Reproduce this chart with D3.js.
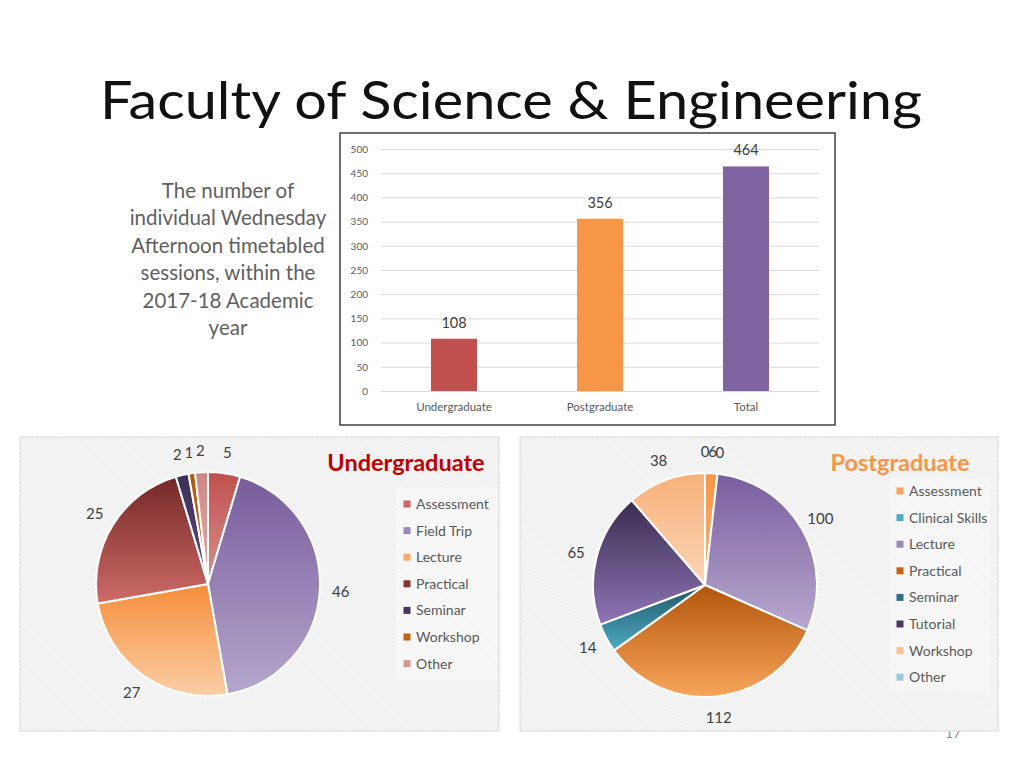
<!DOCTYPE html>
<html>
<head>
<meta charset="utf-8">
<script src="https://cdn.jsdelivr.net/npm/d3@7"></script>
<style>
  html, body { margin: 0; padding: 0; background: #fff; }
  svg { display: block; font-family: Lato, "Open Sans", sans-serif; }
</style>
</head>
<body>
<div id="slide"></div>
<script>
// ---- data ----
const slideTitle = "Faculty of Science & Engineering";
const introLines = ["The number of", "individual Wednesday", "Afternoon timetabled",
                    "sessions, within the", "2017-18 Academic", "year"];

const barCategories = ["Undergraduate", "Postgraduate", "Total"];
const barValues = [108, 356, 464];
const barTicks = [0, 50, 100, 150, 200, 250, 300, 350, 400, 450, 500];

const ugCategories = ["Assessment", "Field Trip", "Lecture", "Practical", "Seminar", "Workshop", "Other"];
const ugValues = [5, 46, 27, 25, 2, 1, 2];

const pgCategories = ["Assessment", "Clinical Skills", "Lecture", "Practical", "Seminar", "Tutorial", "Workshop", "Other"];
const pgValues = [6, 0, 100, 112, 14, 65, 38, 0];

// colours: [top of gradient, bottom of gradient, legend swatch]
const barColors = ["#c0504d", "#f79646", "#8064a2"];
const ugColors = [
  ["#c0504d", "#d99290", "#cd6562"],
  ["#785c9c", "#b5a7cd", "#9a89b9"],
  ["#f68e3b", "#fbcda5", "#f8a968"],
  ["#742826", "#cd6b68", "#8c3432"],
  ["#3a2f56", "#5c4e80", "#433863"],
  ["#b0560e", "#d8761e", "#c2620f"],
  ["#d08684", "#e2aeac", "#d99694"]
];
const pgColors = [
  ["#f79646", "#f9b37b", "#f8a15b"],
  ["#4bacc6", "#93cddd", "#4bacc6"],
  ["#7a5e9f", "#b7a8ce", "#9a87ba"],
  ["#b2560c", "#f8a55b", "#c7630f"],
  ["#1f5868", "#4eaac2", "#2a6f82"],
  ["#3b2d50", "#8e76b6", "#45385c"],
  ["#f8b07a", "#fbd6b6", "#fac090"],
  ["#93cddd", "#b7dde8", "#93cddd"]
];

const W = 1024, H = 768;
const svg = d3.select("#slide").append("svg").attr("width", W).attr("height", H);
const defs = svg.append("defs");

// hatched panel background
const pat = defs.append("pattern")
  .attr("id", "hatch")
  .attr("patternUnits", "userSpaceOnUse")
  .attr("width", 3).attr("height", 3)
  .attr("patternTransform", "rotate(45)");
pat.append("rect").attr("width", 3).attr("height", 3).attr("fill", "#ececec");
pat.append("rect").attr("width", 3).attr("height", 1.5).attr("fill", "#f9f9f9");

// ---- title ----
const title = svg.append("text")
  .attr("x", 100).attr("y", 119)
  .attr("fill", "#111")
  .attr("font-size", 52)
  .text(slideTitle);
// fit title to its width on the slide
const tw = title.node().getComputedTextLength();
title.attr("textLength", 822).attr("lengthAdjust", "spacingAndGlyphs")
  .attr("font-size", Math.min(52, 52 * 822 / tw));

// ---- intro text ----
svg.append("g").selectAll("text")
  .data(introLines)
  .join("text")
  .attr("x", 228)
  .attr("y", (d, i) => 198 + i * 27.4)
  .attr("text-anchor", "middle")
  .attr("font-size", 20.5)
  .attr("fill", "#5f5f5f")
  .text(d => d);

// ---- bar chart ----
const barBox = { x: 340, y: 133, w: 495, h: 292 };
svg.append("rect")
  .attr("x", barBox.x).attr("y", barBox.y)
  .attr("width", barBox.w).attr("height", barBox.h)
  .attr("fill", "#fff").attr("stroke", "#404040").attr("stroke-width", 1.5);

const bx = d3.scaleBand().domain(barCategories).range([381, 819]).paddingInner(0.685).paddingOuter(0.3425);
const by = d3.scaleLinear().domain([0, 500]).range([391, 149]);

const barG = svg.append("g");
barG.append("g")
  .attr("transform", "translate(381,0)")
  .call(d3.axisLeft(by).tickValues(barTicks).tickSize(-438).tickPadding(13))
  .call(g => g.select(".domain").remove())
  .call(g => g.selectAll(".tick line").attr("stroke", "#d9d9d9"))
  .call(g => g.selectAll(".tick text").attr("fill", "#595959").attr("font-size", 10)
    .attr("font-family", "Lato, sans-serif"));

barG.append("g")
  .attr("transform", "translate(0,391)")
  .call(d3.axisBottom(bx).tickSize(0).tickPadding(12))
  .call(g => g.select(".domain").remove())
  .call(g => g.selectAll(".tick text").attr("fill", "#595959").attr("font-size", 11.5)
    .attr("font-family", "Lato, sans-serif"));

barG.selectAll("rect.bar")
  .data(barValues)
  .join("rect")
  .attr("class", "bar")
  .attr("x", (d, i) => bx(barCategories[i]))
  .attr("width", bx.bandwidth())
  .attr("y", d => by(d))
  .attr("height", d => by(0) - by(d))
  .attr("fill", (d, i) => barColors[i]);

barG.selectAll("text.val")
  .data(barValues)
  .join("text")
  .attr("class", "val")
  .attr("x", (d, i) => bx(barCategories[i]) + bx.bandwidth() / 2)
  .attr("y", d => by(d) - 11)
  .attr("text-anchor", "middle")
  .attr("font-size", 14.5)
  .attr("fill", "#404040")
  .text(d => d);

// page number (partly hidden under the right panel)
svg.append("text")
  .attr("x", 953).attr("y", 738)
  .attr("text-anchor", "middle")
  .attr("font-size", 14)
  .attr("fill", "#8c8c8c")
  .text("17");

// ---- pie panels ----
function drawPie(opt) {
  const g = svg.append("g");
  g.append("rect")
    .attr("x", opt.box[0]).attr("y", opt.box[1])
    .attr("width", opt.box[2]).attr("height", opt.box[3])
    .attr("fill", "url(#hatch)")
    .attr("stroke", "#d9d9d9").attr("stroke-width", 1);

  // slightly lighter legend area
  g.append("rect")
    .attr("x", opt.legendBox[0]).attr("y", opt.legendBox[1])
    .attr("width", opt.legendBox[2]).attr("height", opt.legendBox[3])
    .attr("fill", "#fff").attr("opacity", 0.35);

  const pie = d3.pie().sort(null).value(d => d)(opt.values);
  const arc = d3.arc().innerRadius(0).outerRadius(opt.r);
  const labelArc = d3.arc().innerRadius(opt.labelR).outerRadius(opt.labelR);

  opt.colors.forEach((c, i) => {
    const lg = defs.append("linearGradient")
      .attr("id", opt.id + "-g" + i)
      .attr("x1", 0).attr("y1", 0).attr("x2", 0).attr("y2", 1);
    lg.append("stop").attr("offset", "0%").attr("stop-color", c[0]);
    lg.append("stop").attr("offset", "100%").attr("stop-color", c[1]);
  });

  const pg = g.append("g").attr("transform", `translate(${opt.cx},${opt.cy})`);
  pg.selectAll("path")
    .data(pie)
    .join("path")
    .attr("d", arc)
    .attr("fill", (d, i) => `url(#${opt.id}-g${i})`)
    .attr("stroke", "#fff")
    .attr("stroke-width", 2)
    .attr("stroke-linejoin", "round");

  pg.selectAll("text")
    .data(pie)
    .join("text")
    .attr("transform", d => `translate(${labelArc.centroid(d)})`)
    .attr("text-anchor", "middle")
    .attr("dy", "0.35em")
    .attr("font-size", 15)
    .attr("fill", "#404040")
    .text(d => d.data);

  g.append("text")
    .attr("x", opt.titleX).attr("y", 471)
    .attr("text-anchor", "middle")
    .attr("font-size", opt.titleSize)
    .attr("font-weight", "bold")
    .attr("fill", opt.titleColor)
    .text(opt.title);

  const lg = g.append("g").selectAll("g")
    .data(opt.categories)
    .join("g")
    .attr("transform", (d, i) => `translate(${opt.legendX},${opt.legendY + i * 26.6})`);
  lg.append("rect")
    .attr("x", -3.5).attr("y", -3.5).attr("width", 7).attr("height", 7)
    .attr("fill", (d, i) => opt.colors[i][2]);
  lg.append("text")
    .attr("x", 9).attr("dy", "0.35em")
    .attr("font-size", 14)
    .attr("fill", "#595959")
    .text(d => d);
}

drawPie({
  id: "ug", box: [20, 437, 479, 294], legendBox: [396, 488, 102, 192],
  values: ugValues, categories: ugCategories, colors: ugColors,
  cx: 208, cy: 584, r: 112, labelR: 133,
  title: "Undergraduate", titleX: 406, titleSize: 23.5, titleColor: "#c00000",
  legendX: 407, legendY: 504
});

drawPie({
  id: "pg", box: [520, 437, 478, 294], legendBox: [890, 478, 100, 212],
  values: pgValues, categories: pgCategories, colors: pgColors,
  cx: 705, cy: 585, r: 112, labelR: 133,
  title: "Postgraduate", titleX: 900, titleSize: 23.5, titleColor: "#f79646",
  legendX: 900, legendY: 491
});
</script>
</body>
</html>
